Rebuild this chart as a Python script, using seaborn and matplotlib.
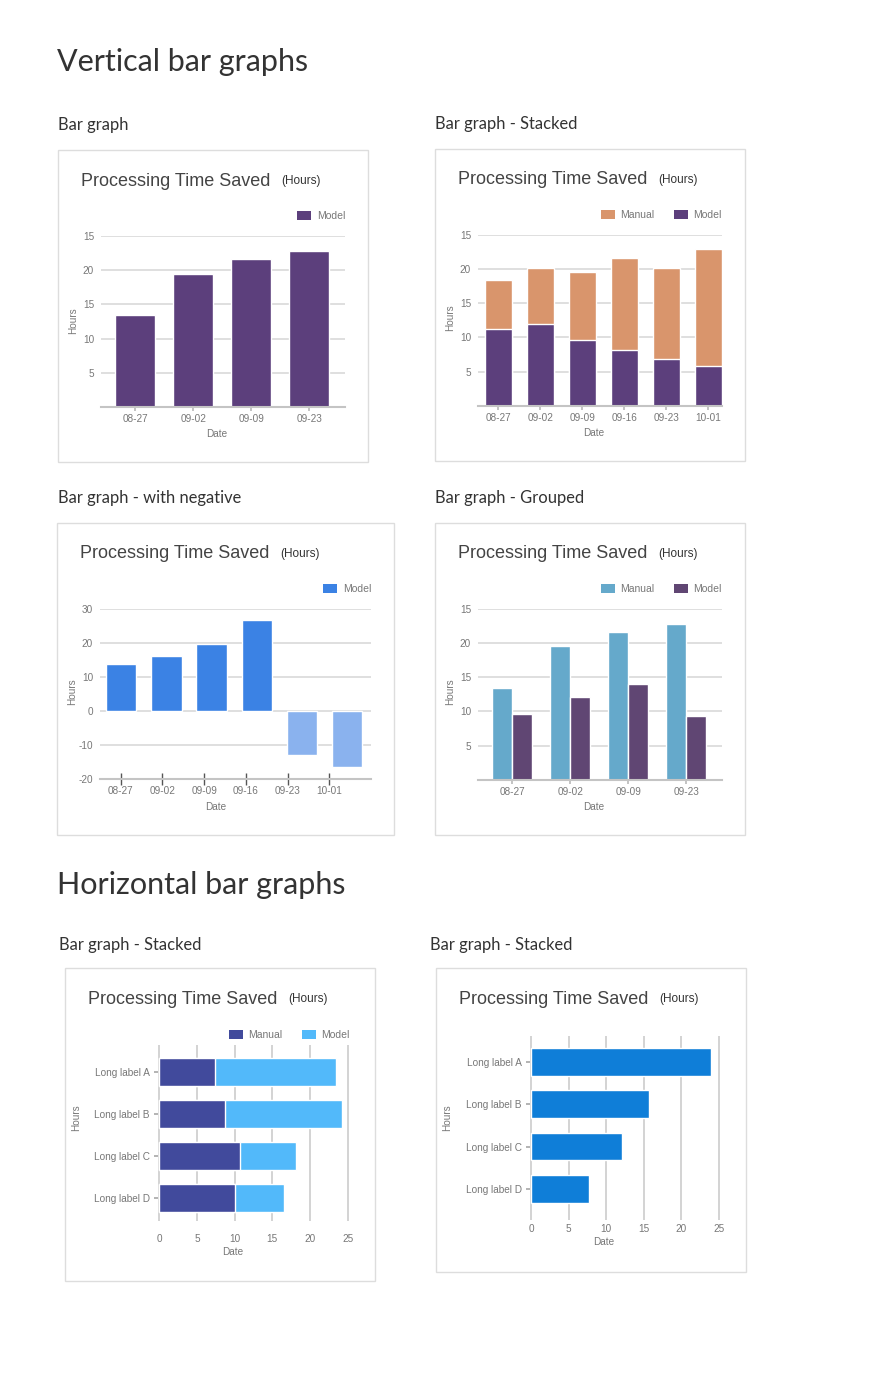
import numpy as np
import pandas as pd
import matplotlib
matplotlib.use("Agg")
import matplotlib.pyplot as plt
from matplotlib.patches import Rectangle, Patch
import seaborn as sns

# values
dates_4 = ["08-27", "09-02", "09-09", "09-23"]
dates_6 = ["08-27", "09-02", "09-09", "09-16", "09-23", "10-01"]
long_labels = ["Long label A", "Long label B", "Long label C", "Long label D"]

simple_model = [13.4, 19.5, 21.6, 22.8]

stacked_model = [11.2, 11.9, 9.6, 8.2, 6.8, 5.8]
stacked_manual = [7.2, 8.2, 9.9, 13.4, 13.3, 17.1]

negative_model = [13.7, 16.1, 19.6, 26.7, -13.0, -16.6]

grouped_manual = [13.4, 19.5, 21.6, 22.8]
grouped_model = [9.6, 12.1, 14.0, 9.3]

hstack_manual = [7.4, 8.7, 10.7, 10.1]
hstack_model = [16.1, 15.6, 7.5, 6.4]

hbar_model = [24.0, 15.7, 12.1, 7.7]

vert_ticks = [5, 10, 15, 20, 25]
vert_ticklabels = ["5", "10", "15", "20", "15"]  # the top label really says 15
neg_ticks = [-20, -10, 0, 10, 20, 30]
neg_ticklabels = ["-20", "-10", "0", "10", "20", "30"]
horiz_ticks = [0, 5, 10, 15, 20, 25]

# colours
PURPLE = "#5c3f7c"
ORANGE = "#d9956c"
BLUE = "#3b82e4"
LIGHT_BLUE = "#8ab2ee"
TEAL = "#65a9cb"
PLUM = "#604673"
NAVY = "#414a9c"
SKY = "#52b9fa"
HBLUE = "#0f7ed8"

GRAY_TXT = "#777777"
HEAD_FONT = "Lato"
CHART_FONT = "Liberation Sans"

sns.set_theme(style="white")
plt.rcParams["font.family"] = [CHART_FONT, "DejaVu Sans"]

W, H = 886, 1375
fig = plt.figure(figsize=(W / 100, H / 100), dpi=100)
fig.patch.set_facecolor("white")


def px_axes(l, t, r, b):
    ax = fig.add_axes([l / W, 1 - b / H, (r - l) / W, (b - t) / H])
    ax.set_facecolor("none")
    return ax


def card(x, y, w, h):
    fig.add_artist(Rectangle((x / W, 1 - (y + h) / H), w / W, h / H,
                             transform=fig.transFigure, facecolor="white",
                             edgecolor="#dddddd", lw=1, zorder=0))
    fig.text((x + 23) / W, 1 - (y + 31) / H, "Processing Time Saved",
             fontsize=13, color="#444444", va="center")
    fig.text((x + 223) / W, 1 - (y + 31) / H, "(Hours)",
             fontsize=8.5, color="#333333", va="center")


def heading(x, y, s, size):
    fig.text(x / W, 1 - y / H, s, fontsize=size, color="#333333",
             va="baseline", family=HEAD_FONT)


def legend(ax, items, above):
    handles = [Patch(facecolor=c, edgecolor="none", label=l) for l, c in items]
    ax.legend(handles=handles, loc="center right", bbox_to_anchor=(1.0, 1 + above),
              ncol=len(items), frameon=False, fontsize=7.5, labelcolor=GRAY_TXT,
              handlelength=1.4, handleheight=0.95, handletextpad=0.5,
              columnspacing=1.85, borderaxespad=0, borderpad=0)


def axis_labels(ax, date_xy, hours_xy):
    # place "Date" / "Hours" at pixel spots
    ax.set_xlabel("Date", fontsize=7.2, color=GRAY_TXT, va="center")
    ax.set_ylabel("Hours", fontsize=7.2, color=GRAY_TXT, va="center")
    ax.xaxis.set_label_coords(date_xy[0] / W, 1 - date_xy[1] / H, transform=fig.transFigure)
    ax.yaxis.set_label_coords(hours_xy[0] / W, 1 - hours_xy[1] / H, transform=fig.transFigure)


def style_vertical(ax, ticks, labels, ylim):
    ax.set_ylim(*ylim)
    ax.set_yticks(ticks, labels)
    ax.yaxis.grid(True, color="#d9d9d9", lw=1.2)
    ax.xaxis.grid(False)
    ax.set_axisbelow(True)
    for s in ["top", "right", "left"]:
        ax.spines[s].set_visible(False)
    ax.spines["bottom"].set_color("#c4c4c4")
    ax.spines["bottom"].set_linewidth(1.5)
    ax.tick_params(axis="y", length=0, pad=5, labelsize=7.2, labelcolor=GRAY_TXT)
    ax.tick_params(axis="x", bottom=True, length=3, color="#bbbbbb", pad=2,
                   labelsize=7.2, labelcolor=GRAY_TXT)


def style_horizontal(ax, xlim, ylim, xpad):
    ax.set_xlim(*xlim)
    ax.set_ylim(*ylim)
    ax.set_xticks(horiz_ticks)
    ax.xaxis.grid(True, color="#cccccc", lw=1.2)
    ax.yaxis.grid(False)
    ax.set_axisbelow(True)
    for s in ax.spines.values():
        s.set_visible(False)
    ax.tick_params(axis="x", length=0, pad=xpad, labelsize=7.2, labelcolor=GRAY_TXT)
    ax.tick_params(axis="y", left=True, length=3, color="#aaaaaa", pad=3,
                   labelsize=7.2, labelcolor=GRAY_TXT)


# headings
heading(57, 71, "Vertical bar graphs", 22)
heading(57, 894, "Horizontal bar graphs", 22)
for sx, sy, s in [(58, 130, "Bar graph"), (435, 129, "Bar graph - Stacked"),
                  (58, 503.5, "Bar graph - with negative"), (435, 503.5, "Bar graph - Grouped"),
                  (59, 950, "Bar graph - Stacked"), (430, 950, "Bar graph - Stacked")]:
    heading(sx, sy, s, 11.9)

# 1. simple bar graph
card(58, 150, 310, 312)
ax = px_axes(101, 236, 345, 407)
sns.barplot(x=dates_4, y=simple_model, color=PURPLE, width=0.69,
            saturation=1, errorbar=None, ax=ax)
style_vertical(ax, vert_ticks, vert_ticklabels, (0, 25))
ax.set_xlim(-0.59, 3.62)
legend(ax, [("Model", PURPLE)], 20 / 171)
axis_labels(ax, (216.7, 434), (73, 321))

# 2. stacked
card(435, 149, 310, 312)
ax = px_axes(478, 234.7, 722, 405.7)
stack_total = [m + u for m, u in zip(stacked_model, stacked_manual)]
sns.barplot(x=dates_6, y=stack_total, color=ORANGE, width=0.64,
            saturation=1, errorbar=None, ax=ax)
sns.barplot(x=dates_6, y=stacked_model, color=PURPLE, width=0.64,
            saturation=1, errorbar=None, ax=ax)
style_vertical(ax, vert_ticks, vert_ticklabels, (0, 25))
ax.set_xlim(-0.48, 5.33)
legend(ax, [("Manual", ORANGE), ("Model", PURPLE)], 20 / 171)
axis_labels(ax, (593.7, 432.7), (450, 318))

# 3. with negative values
card(57, 523, 337, 312)
ax = px_axes(100, 608.7, 371, 779)
neg_df = pd.DataFrame({"date": dates_6, "hours": negative_model})
neg_df["sign"] = np.where(neg_df["hours"] >= 0, "pos", "neg")
sns.barplot(data=neg_df, x="date", y="hours", hue="sign",
            palette={"pos": BLUE, "neg": LIGHT_BLUE}, dodge=False, width=0.67,
            saturation=1, errorbar=None, legend=False, ax=ax)
style_vertical(ax, neg_ticks, neg_ticklabels, (-20, 30))
ax.set_xticks(np.arange(len(dates_6)) * 0.925 - 0.015, dates_6)
ax.tick_params(axis="x", direction="inout", length=8, color="#555555", width=1, pad=1)
ax.set_xlim(-0.47, 5.53)
legend(ax, [("Model", BLUE)], 20 / 170)
axis_labels(ax, (215.7, 806.7), (72, 692))

# 4. grouped
card(435, 523, 310, 312)
ax = px_axes(478, 608.7, 722, 779.7)
grp_df = pd.DataFrame({"date": dates_4 * 2,
                       "hours": grouped_manual + grouped_model,
                       "series": ["Manual"] * 4 + ["Model"] * 4})
sns.barplot(data=grp_df, x="date", y="hours", hue="series",
            palette={"Manual": TEAL, "Model": PLUM}, width=0.69, gap=0,
            saturation=1, errorbar=None, legend=False, ax=ax)
style_vertical(ax, vert_ticks, vert_ticklabels, (0, 25))
ax.set_xlim(-0.59, 3.62)
legend(ax, [("Manual", TEAL), ("Model", PLUM)], 20 / 171)
axis_labels(ax, (594, 806.7), (450, 692))

# 5. horizontal stacked
card(65, 968, 310, 313)
ax = px_axes(158.2, 1045, 350, 1221)
hs_total = [m + u for m, u in zip(hstack_manual, hstack_model)]
sns.barplot(y=long_labels, x=hs_total, color=SKY, orient="h", width=0.66,
            saturation=1, errorbar=None, ax=ax)
sns.barplot(y=long_labels, x=hstack_manual, color=NAVY, orient="h", width=0.66,
            saturation=1, errorbar=None, ax=ax)
style_horizontal(ax, (-0.15, 25.3), (3.55, -0.64), 9)
legend(ax, [("Manual", NAVY), ("Model", SKY)], 10 / 176)
axis_labels(ax, (233, 1252.3), (76, 1118))

# 6. horizontal single series
card(436, 968, 310, 304)
ax = px_axes(529.9, 1035.7, 720.9, 1219.7)
sns.barplot(y=long_labels, x=hbar_model, color=HBLUE, orient="h", width=0.65,
            saturation=1, errorbar=None, ax=ax)
style_horizontal(ax, (-0.15, 25.3), (3.72, -0.615), 3)
axis_labels(ax, (604, 1242.3), (447, 1118))

fig.savefig("out.png", dpi=100, facecolor="white")
